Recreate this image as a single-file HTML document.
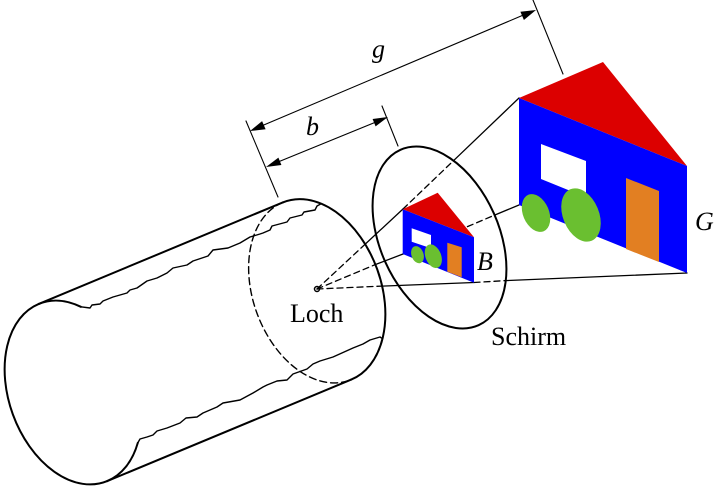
<!DOCTYPE html>
<html><head><meta charset="utf-8"><style>
html,body{margin:0;padding:0;background:#fff;}
svg{display:block;}
text{font-family:"Liberation Serif",serif;font-size:26px;fill:#000;}
.it{font-style:italic;}
</style></head><body>
<svg width="717" height="486" viewBox="0 0 717 486" xmlns="http://www.w3.org/2000/svg">
<rect width="717" height="486" fill="#fff"/>
<g fill="none" stroke="#000" stroke-linecap="round" stroke-linejoin="round">
 <!-- cylinder -->
 <path stroke-width="2" d="M38.8,303.9 A64,95 -20 0 0 12.84,414.39 A64,95 -20 0 0 107.2,481.1"/>
 <path stroke-width="2" d="M38.8,303.9 A64,95 -20 0 1 80.89,306.79"/>
 <path stroke-width="2" d="M107.2,481.1 A64,95 -20 0 0 137.79,442.88"/>
 <path stroke-width="2" d="M38.8,303.9 L282.8,202.4"/>
 <path stroke-width="2" d="M107.2,481.1 L351.2,379.6"/>
 <path stroke-width="2" d="M282.8,202.4 A64,95 -20 0 1 377.16,269.11 A64,95 -20 0 1 351.2,379.6"/>
 <path stroke-width="1.4" stroke-dasharray="7 4" d="M282.8,202.4 A64,95 -20 0 0 256.84,312.89 A64,95 -20 0 0 351.2,379.6"/>
 <!-- jagged cut lines -->
 <path stroke-width="1.4" d="M80.89,306.79 L90,308 L92,305 L100,304 L103,301 L113,297 L127,293 L130,290 L137,288 L147,281 L157,278 L167,273 L173,268 L187,265 L193,261 L208,256 L213,250 L228,248 L240,243 L250,237 L260,234 L263,233 L270,230 L272,226 L287,222 L290,218 L302,215 L304,212 L315,210 L317,206 L321.33,203.67"/>
 <path stroke-width="1.4" d="M137.79,442.88 L140,439 L147,437 L153,435 L157,431 L167,428 L180,423 L186,418 L197,417 L203,413 L217,407 L223,403 L240,400 L253,393 L263,387 L267,385 L277,381 L287,380 L293,374 L307,369 L313,364 L320,361 L333,357 L353,348 L363,344 L370,340 L380,337 L382.51,338.66"/>
 <!-- rays -->
 <g stroke-width="1.3">
  <path stroke-dasharray="6 4" d="M317,289 L365.9,243.5"/>
  <path d="M365.9,243.5 L403,209"/>
  <path stroke-dasharray="6 4" d="M403,209 L453.5,160.7"/>
  <path d="M453.5,160.7 L519,98"/>
  <path stroke-dasharray="6 4" d="M317,289 L375.5,264.5"/>
  <path d="M375.5,264.5 L403,254"/>
  <path stroke-dasharray="6 4" d="M403,254 L494.6,215.1"/>
  <path d="M494.6,215.1 L519,205"/>
  <path stroke-dasharray="6 4" d="M317,289 L382,286.1"/>
  <path d="M382,286.1 L474,282.5"/>
  <path stroke-dasharray="6 4" d="M474,282.5 L505.7,280.6"/>
  <path d="M505.7,280.6 L687,273"/>
 </g>
 <!-- dimension lines -->
 <g stroke-width="1.1">
  <path d="M246,121 L278,197"/>
  <path d="M382,106 L398,146"/>
  <path d="M533,0 L563,74"/>
  <path d="M262,125.8 L524,14.8"/>
  <path d="M278,162 L376,122"/>
 </g>
</g>
<!-- arrowheads -->
<g fill="#000" stroke="none">
 <polygon points="250,131 265.6,129.3 262.1,121.1"/>
 <polygon points="536,10 523.9,20.0 520.4,11.7"/>
 <polygon points="266,167 281.4,165.0 278.4,157.6"/>
 <polygon points="388,117 375.6,126.4 372.6,119.0"/>
</g>
<!-- pinhole -->
<circle cx="317" cy="289" r="2.5" fill="none" stroke="#000" stroke-width="1.5"/>
<!-- big house -->
<polygon points="519,98 603,62 687,166" fill="#dc0000"/>
<polygon points="519,98 687,166 687,273 519,205" fill="#0000ff"/>
<polygon points="541,144 586,161 586,197.2 541,179" fill="#fff"/>
<polygon points="626,178 659,191 659,262 626,249" fill="#e27f22"/>
<ellipse cx="536" cy="213" rx="13" ry="19.8" transform="rotate(-23 536 213)" fill="#6abf30"/>
<ellipse cx="581" cy="215" rx="18" ry="27.9" transform="rotate(-22.5 581 215)" fill="#6abf30"/>
<!-- small house -->
<polygon points="402.7,209.3 437.7,192.7 474,237.3" fill="#dc0000"/>
<polygon points="402.7,209.3 474,237.3 474,282.7 402.7,254" fill="#0000ff"/>
<polygon points="411.7,228.3 431,235 431,248.3 411.7,241.7" fill="#fff"/>
<polygon points="447.3,242.7 461.7,247.3 461.7,277.3 447.3,271.7" fill="#e27f22"/>
<ellipse cx="417.5" cy="254.7" rx="6" ry="8.8" transform="rotate(-20 417.5 254.7)" fill="#6abf30"/>
<ellipse cx="433.3" cy="256.2" rx="7.8" ry="12.3" transform="rotate(-22 433.3 256.2)" fill="#6abf30"/>
<!-- screen -->
<ellipse cx="439.5" cy="237.5" rx="59.5" ry="96" transform="rotate(-24 439.5 237.5)" fill="none" stroke="#000" stroke-width="2"/>
<!-- labels -->
<text x="290" y="322">Loch</text>
<text x="491" y="345">Schirm</text>
<text class="it" x="477" y="270">B</text>
<text class="it" x="695" y="230">G</text>
<text class="it" x="372" y="57.5">g</text>
<text class="it" x="306" y="135">b</text>
</svg>
</body></html>
